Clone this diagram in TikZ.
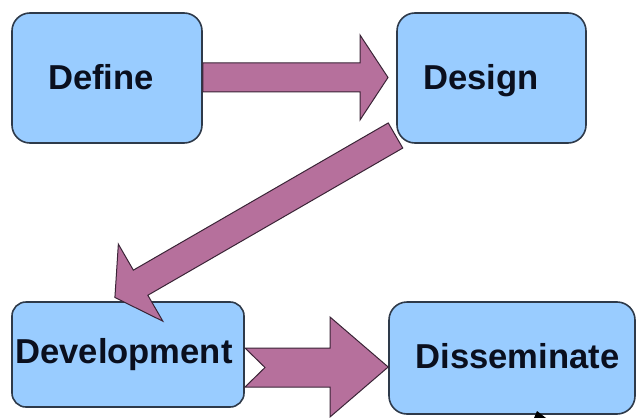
\documentclass[tikz,border=0pt]{standalone}
\usepackage{fontspec}
\setmainfont{Liberation Sans}
\begin{document}
\begin{tikzpicture}[x=0.5pt,y=-0.5pt,
  box/.style={draw=boxline,line width=0.8pt,fill=boxfill,rounded corners=9pt,inner sep=0pt},
  lbl/.style={font=\bfseries\fontsize{17.3pt}{20pt}\selectfont,text=txt,inner sep=0pt,anchor=base},
  blockarrow/.style={draw=arrline,line width=0.5pt,fill=arrfill,line join=miter}]
\definecolor{boxfill}{HTML}{99CCFF}
\definecolor{boxline}{HTML}{2E3A4A}
\definecolor{arrfill}{HTML}{B6709C}
\definecolor{arrline}{HTML}{3A2436}
\definecolor{txt}{HTML}{0A0F1E}
\useasboundingbox (0,0) rectangle (636,417);
\clip (0,0) rectangle (636,417);
% boxes
\node[box,minimum width=95pt,minimum height=65pt] (define) at (107,78) {};
\node[box,minimum width=94.5pt,minimum height=65pt] (design) at (491.5,78) {};
\node[box,minimum width=116pt,minimum height=52.5pt,rounded corners=7pt] (devel) at (128,354.5) {};
\node[box,minimum width=123pt,minimum height=56pt] (dissem) at (512,358) {};
% labels
\node[lbl] (defineT) at (101,89.5) {Define};
\node[lbl] (designT) at (481,89.5) {Design};
\node[lbl] (develT) at (124,363.5) {Development};
\node[lbl] (dissemT) at (517.5,368.5) {Disseminate};
% arrow Define -> Design
\draw[blockarrow] (define.east |- 0,63) -- (360,63) -- (360,35) -- (388,77.5) -- (360,120) -- (360,92) -- (define.east |- 0,92) -- cycle;
% arrow Design -> Development
\draw[blockarrow] (388.25,122.94) -- (133.35,270.14) -- (118.35,244.16) -- (114.9,297.5) -- (162.85,321.2) -- (147.85,295.26) -- (402.75,148.06) -- cycle;
% arrow Development -> Disseminate
\draw[blockarrow] (245,348) -- (330,348) -- (330,317) -- (dissem.west |- 0,367) -- (330,417) -- (330,387) -- (245,387) -- (265,367.5) -- cycle;
% small dark tip at bottom
\fill[black] (534,418) -- (537,411) -- (546,418) -- cycle;
\end{tikzpicture}
\end{document}
